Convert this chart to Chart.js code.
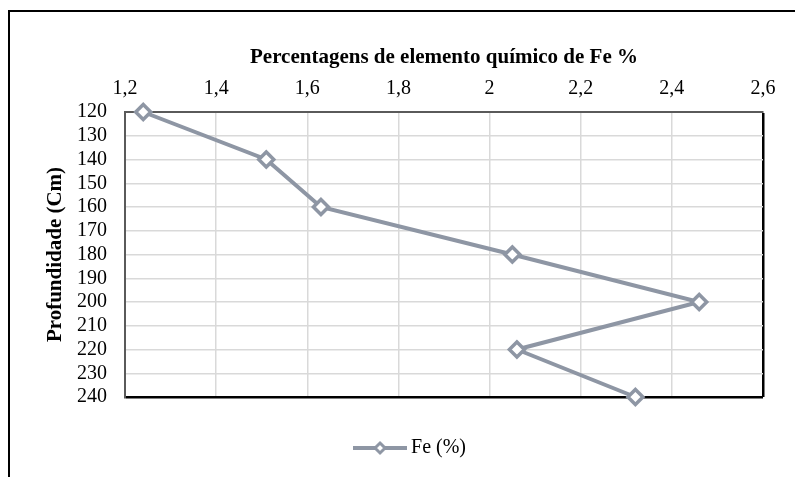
<!DOCTYPE html>
<html>
<head>
<meta charset="utf-8">
<script src="https://cdn.jsdelivr.net/npm/chart.js@4"></script>
<style>
  html, body { margin: 0; padding: 0; background: #fff; overflow: hidden; }
  #wrap { position: relative; width: 795px; height: 477px; }
  #frame { position: absolute; left: 8px; top: 10px; width: 820px; height: 500px;
           border-top: 2px solid #000; border-left: 2px solid #000; pointer-events: none; }
</style>
</head>
<body>
<div id="wrap">
  <canvas id="myChart" width="795" height="477"></canvas>
  <div id="frame"></div>
</div>
<script>
const depths = [120, 140, 160, 180, 200, 220, 240];
const feValues = [1.24, 1.51, 1.63, 2.05, 2.46, 2.06, 2.32];
const xTickMin = 1.2, xTickMax = 2.6, xTickStep = 0.2;
const yTickMin = 120, yTickMax = 240, yTickStep = 10;

const lineColor = "#8e96a4";
const serif = "'Liberation Serif', 'Times New Roman', serif";

// legend symbol: short line with a small diamond in the middle
function legendSymbol() {
  const c = document.createElement("canvas");
  c.width = 54;
  c.height = 20;
  const g = c.getContext("2d");
  g.strokeStyle = lineColor;
  g.lineWidth = 4;
  g.beginPath();
  g.moveTo(0, 10);
  g.lineTo(54, 10);
  g.stroke();
  g.lineWidth = 3;
  g.fillStyle = "#fff";
  g.beginPath();
  g.moveTo(27, 5);
  g.lineTo(32, 10);
  g.lineTo(27, 15);
  g.lineTo(22, 10);
  g.closePath();
  g.fill();
  g.stroke();
  return c;
}

document.addEventListener("DOMContentLoaded", function () {
  const ctx = document.getElementById("myChart").getContext("2d");

  const points = depths.map(function (d, i) {
    return { x: feValues[i], y: d };
  });

  new Chart(ctx, {
    type: "scatter",
    data: {
      datasets: [
        {
          label: "Fe (%)",
          data: points,
          showLine: true,
          clip: false,
          borderColor: lineColor,
          borderWidth: 4,
          pointStyle: "rectRot",
          pointRadius: 7.5,
          pointBorderWidth: 3.5,
          pointBackgroundColor: "#fff",
          pointBorderColor: lineColor,
        },
      ],
    },
    options: {
      responsive: false,
      animation: false,
      layout: { padding: { left: 62, right: 32, top: 20, bottom: 9 } },
      plugins: {
        tooltip: { enabled: false },
        legend: {
          position: "bottom",
          labels: {
            usePointStyle: true,
            pointStyle: legendSymbol(),
            pointStyleWidth: 42,
            padding: 41,
            color: "#000",
            font: { family: serif, size: 20 },
          },
        },
      },
      scales: {
        x: {
          type: "linear",
          position: "top",
          min: xTickMin,
          max: xTickMax,
          afterFit: function (s) {
            s.height = 112 - 20;
            s.paddingLeft = 0;
            s.paddingRight = 0;
          },
          ticks: {
            stepSize: xTickStep,
            padding: 11,
            color: "#000",
            font: { family: serif, size: 20 },
            callback: function (v) {
              return String(Number(v.toFixed(1))).replace(".", ",");
            },
          },
          grid: {
            drawTicks: false,
            color: function (c) {
              return c.tick && Math.abs(c.tick.value - xTickMax) < 1e-6 ? "#000" : "#d9d9d9";
            },
            lineWidth: function (c) {
              return c.tick && Math.abs(c.tick.value - xTickMax) < 1e-6 ? 2.5 : 1.5;
            },
          },
          border: { color: "#5a5a5a", width: 2 },
          title: {
            display: true,
            text: "Percentagens de elemento químico de Fe %",
            color: "#000",
            font: { family: serif, size: 21, weight: "bold" },
            padding: { top: 25, bottom: 0 },
          },
        },
        y: {
          type: "linear",
          reverse: true,
          min: yTickMin,
          max: yTickMax,
          afterFit: function (s) {
            s.width = 125 - 62;
            s.paddingTop = 0;
            s.paddingBottom = 0;
          },
          ticks: {
            stepSize: yTickStep,
            autoSkip: false,
            padding: 18,
            color: "#000",
            font: { family: serif, size: 20 },
          },
          grid: {
            drawTicks: false,
            color: function (c) {
              return c.tick && c.tick.value === yTickMax ? "#000" : "#d9d9d9";
            },
            lineWidth: function (c) {
              return c.tick && c.tick.value === yTickMax ? 2.5 : 1.5;
            },
          },
          border: { color: "#5a5a5a", width: 2 },
          title: {
            display: true,
            text: "Profundidade (Cm)",
            color: "#000",
            font: { family: serif, size: 21, weight: "bold" },
            padding: { top: -19, bottom: 0 },
          },
        },
      },
    },
  });
});
</script>
</body>
</html>
